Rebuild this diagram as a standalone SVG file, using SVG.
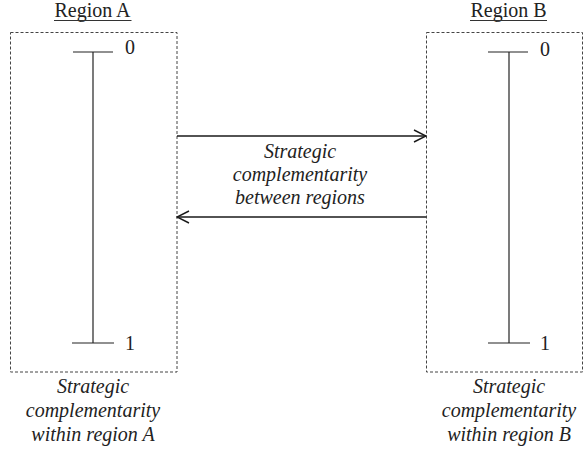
<svg xmlns="http://www.w3.org/2000/svg" width="584" height="455" viewBox="0 0 584 455">
<defs>
<style>
.t{font-family:"Liberation Serif","Times New Roman",serif;font-size:20px;fill:#222;}
.i{font-style:italic;text-anchor:middle;}
.box{fill:none;stroke:#444;stroke-width:1;stroke-dasharray:3 2;}
.sc{stroke:#222;stroke-width:1.2;fill:none;}
.ar{stroke:#1a1a1a;stroke-width:1.4;fill:none;}
</style>
<marker id="ah" viewBox="0 0 14 14" refX="13" refY="7" markerWidth="14" markerHeight="14" markerUnits="userSpaceOnUse" orient="auto">
<path d="M1,1 L13,7 L1,13" fill="none" stroke="#1a1a1a" stroke-width="1.4"/>
</marker>
</defs>
<rect width="584" height="455" fill="#fff"/>
<g id="regionA">
<text class="t" x="92.5" y="17" text-anchor="middle">Region A</text>
<line x1="54" y1="20.5" x2="131.5" y2="20.5" stroke="#333" stroke-width="1"/>
<rect class="box" x="10.5" y="32.5" width="166.5" height="339.5"/>
<line class="sc" x1="93" y1="52" x2="93" y2="343"/>
<line class="sc" x1="73" y1="52" x2="113" y2="52"/>
<line class="sc" x1="72" y1="343" x2="114" y2="343"/>
<text class="t" x="125" y="54">0</text>
<text class="t" x="125" y="350">1</text>
<text class="t i" x="93" y="393">Strategic</text>
<text class="t i" x="93" y="417">complementarity</text>
<text class="t i" x="93" y="441">within region A</text>
</g>
<g id="regionB">
<text class="t" x="508.5" y="17" text-anchor="middle">Region B</text>
<line x1="470" y1="20.5" x2="547" y2="20.5" stroke="#333" stroke-width="1"/>
<rect class="box" x="426.5" y="32.5" width="156" height="339.5"/>
<line class="sc" x1="509" y1="52" x2="509" y2="343"/>
<line class="sc" x1="488" y1="52" x2="528" y2="52"/>
<line class="sc" x1="488" y1="343" x2="530" y2="343"/>
<text class="t" x="540" y="56">0</text>
<text class="t" x="540" y="350">1</text>
<text class="t i" x="509" y="393">Strategic</text>
<text class="t i" x="509" y="417">complementarity</text>
<text class="t i" x="509" y="441">within region B</text>
</g>
<g id="connectors">
<line class="ar" x1="177" y1="136" x2="426" y2="136" marker-end="url(#ah)"/>
<line class="ar" x1="426" y1="217" x2="177" y2="217" marker-end="url(#ah)"/>
<text class="t i" x="300" y="158">Strategic</text>
<text class="t i" x="300" y="181">complementarity</text>
<text class="t i" x="300" y="204">between regions</text>
</g>
</svg>
